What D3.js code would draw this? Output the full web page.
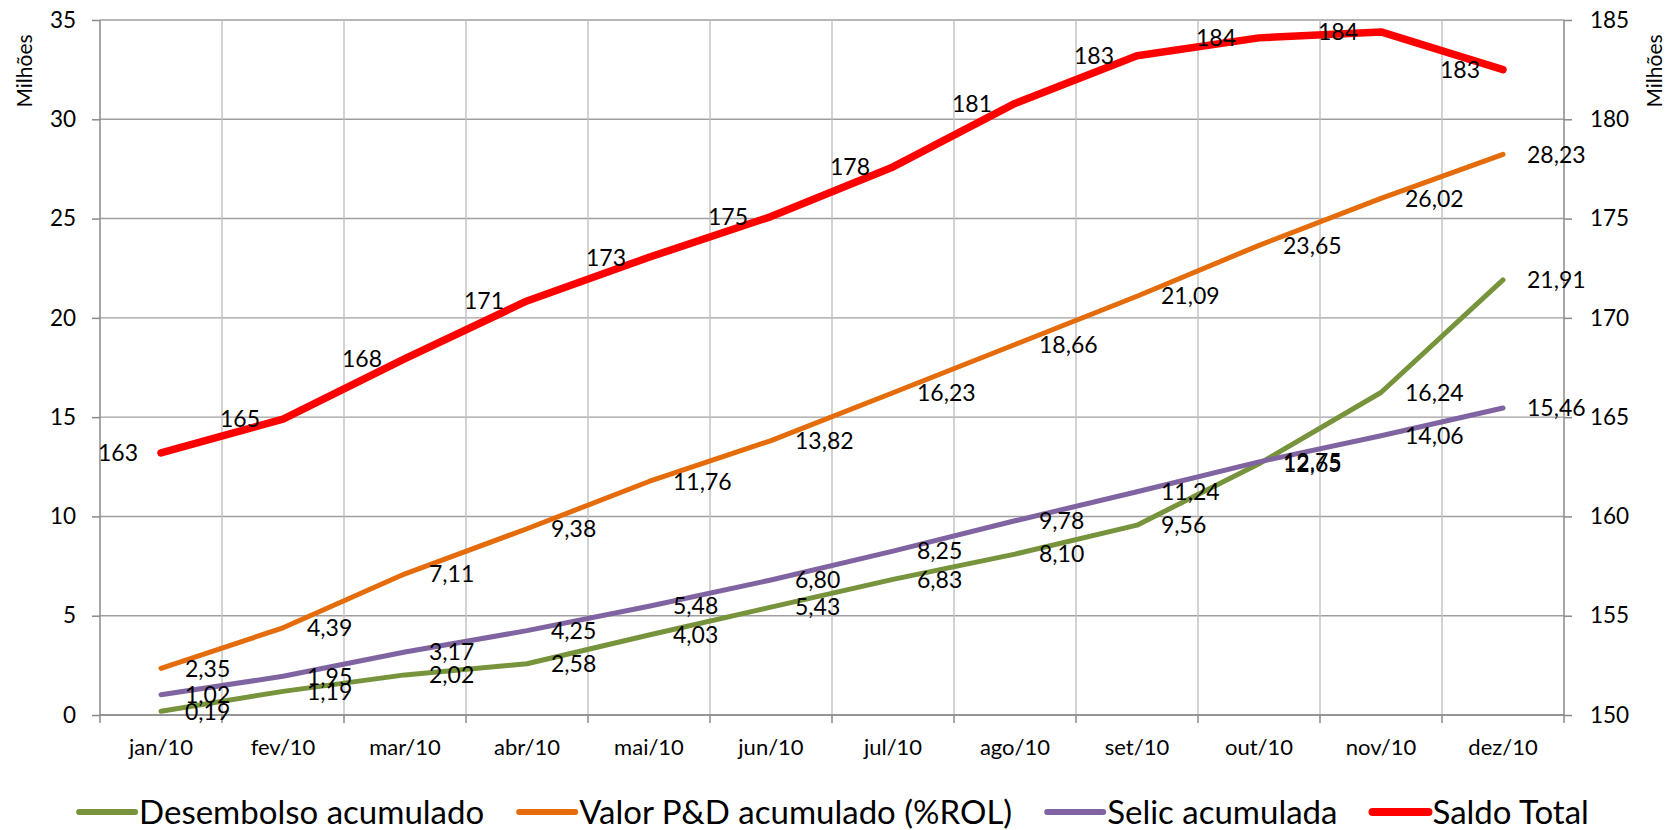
<!DOCTYPE html>
<html><head><meta charset="utf-8">
<script src="https://cdn.jsdelivr.net/npm/d3@7"></script>
<style>
html,body{margin:0;padding:0;background:#fff;}
svg{display:block;font-family:Lato,"Open Sans",sans-serif;}
</style></head>
<body>
<script>
const categories = ["jan/10","fev/10","mar/10","abr/10","mai/10","jun/10","jul/10","ago/10","set/10","out/10","nov/10","dez/10"];
const desembolso = [0.19,1.19,2.02,2.58,4.03,5.43,6.83,8.10,9.56,12.65,16.24,21.91];
const valorPD = [2.35,4.39,7.11,9.38,11.76,13.82,16.23,18.66,21.09,23.65,26.02,28.23];
const selic = [1.02,1.95,3.17,4.25,5.48,6.80,8.25,9.78,11.24,12.75,14.06,15.46];
const saldoTotal = [163.2,164.9,167.95,170.85,173.05,175.1,177.6,180.8,183.2,184.1,184.4,182.5];
const leftTicks = [0,5,10,15,20,25,30,35];
const rightTicks = [150,155,160,165,170,175,180,185];
const seriesNames = ["Desembolso acumulado","Valor P&D acumulado (%ROL)","Selic acumulada","Saldo Total"];

const W = 1673, H = 830;
const L = 100, R = 1564, T = 20, B = 715;
const svg = d3.select("body").append("svg").attr("width", W).attr("height", H);

const x = d3.scaleBand().domain(categories).range([L, R]).paddingInner(0).paddingOuter(0);
const y = d3.scaleLinear().domain([0, 35]).range([B, T]);
const y2 = d3.scaleLinear().domain([150, 185]).range([B, T]);
const cx = c => x(c) + x.bandwidth() / 2;

// horizontal gridlines
svg.append("g").selectAll("line").data(leftTicks).join("line")
  .attr("x1", L).attr("x2", R).attr("y1", d => y(d)).attr("y2", d => y(d))
  .attr("stroke", "#9f9f9f").attr("stroke-width", 1.4);

// vertical gridlines at category boundaries
const bounds = categories.map(c => x(c)).concat([R]);
svg.append("g").selectAll("line").data(bounds.slice(1, -1)).join("line")
  .attr("x1", d => d).attr("x2", d => d).attr("y1", T).attr("y2", B)
  .attr("stroke", "#c0c0c0").attr("stroke-width", 1.4);

// x-axis
svg.append("line").attr("x1", L).attr("x2", R).attr("y1", B).attr("y2", B)
  .attr("stroke", "#8a8a8a").attr("stroke-width", 1.5);
svg.append("g").selectAll("line").data(bounds).join("line")
  .attr("x1", d => d).attr("x2", d => d).attr("y1", B).attr("y2", B + 8)
  .attr("stroke", "#8a8a8a").attr("stroke-width", 1.5);
svg.append("g").selectAll("text").data(categories).join("text")
  .attr("x", d => cx(d)).attr("y", 755).attr("text-anchor", "middle")
  .attr("font-size", 22).attr("fill", "#000").text(d => d);

// left axis
const gl = svg.append("g").attr("transform", `translate(${L},0)`)
  .call(d3.axisLeft(y).tickValues(leftTicks).tickSize(8).tickPadding(16).tickFormat(d3.format("d")));
// right axis
const gr = svg.append("g").attr("transform", `translate(${R},0)`)
  .call(d3.axisRight(y2).tickValues(rightTicks).tickSize(8).tickPadding(18).tickFormat(d3.format("d")));
[gl, gr].forEach(g => {
  g.select(".domain").attr("stroke", "#8a8a8a").attr("stroke-width", 1.5).attr("d", `M0,${T}V${B}`);
  g.selectAll(".tick line").attr("stroke", "#8a8a8a").attr("stroke-width", 1.5);
  g.selectAll(".tick text").attr("font-size", 22.5).attr("fill", "#000")
    .attr("font-family", "Lato,'Open Sans',sans-serif");
});

// axis titles
svg.append("text").attr("transform", "translate(32,71) rotate(-90)")
  .attr("text-anchor", "middle").attr("font-size", 21).text("Milhões");
svg.append("text").attr("transform", "translate(1662,71) rotate(-90)")
  .attr("text-anchor", "middle").attr("font-size", 21).text("Milhões");

const series = [
  {name: seriesNames[0], vals: desembolso, color: "#77933c", w: 5, sc: y, side: "right", fmt: d3.format(",.2f")},
  {name: seriesNames[1], vals: valorPD, color: "#e46c0a", w: 5, sc: y, side: "right", fmt: d3.format(",.2f")},
  {name: seriesNames[2], vals: selic, color: "#8064a2", w: 5, sc: y, side: "right", fmt: d3.format(",.2f")},
  {name: seriesNames[3], vals: saldoTotal, color: "#ff0000", w: 7.5, sc: y2, side: "left", fmt: d3.format(".0f")}
];
const comma = s => s.replace(".", ",");

series.forEach(s => {
  const line = d3.line().x((d, i) => cx(categories[i])).y(d => s.sc(d));
  svg.append("path").datum(s.vals).attr("d", line)
    .attr("fill", "none").attr("stroke", s.color).attr("stroke-width", s.w)
    .attr("stroke-linejoin", "round").attr("stroke-linecap", "round");
});
series.forEach(s => {
  svg.append("g").selectAll("text").data(s.vals).join("text")
    .attr("x", (d, i) => cx(categories[i]) + (s.side === "right" ? 24 : -23))
    .attr("y", d => s.sc(d)).attr("dy", "0.36em")
    .attr("text-anchor", s.side === "right" ? "start" : "end")
    .attr("font-size", 23).attr("fill", "#000")
    .text(d => comma(s.fmt(d)));
});

// legend
const lg = svg.append("g");
const items = [];
series.forEach(s => {
  const g = lg.append("g");
  g.append("line").attr("x1", 0).attr("x2", 56).attr("y1", 0).attr("y2", 0)
    .attr("stroke", s.color).attr("stroke-width", s.w > 6 ? 8 : 6).attr("stroke-linecap", "round");
  const t = g.append("text").attr("x", 60).attr("y", 0).attr("dy", "0.36em")
    .attr("font-size", 33).attr("fill", "#000").text(s.name);
  items.push({g, w: 60 + t.node().getComputedTextLength()});
});
const gap = 35;
const total = d3.sum(items, d => d.w) + gap * (items.length - 1);
let xx = 834 - total / 2;
items.forEach(it => { it.g.attr("transform", `translate(${xx},812)`); xx += it.w + gap; });
</script>
</body></html>
